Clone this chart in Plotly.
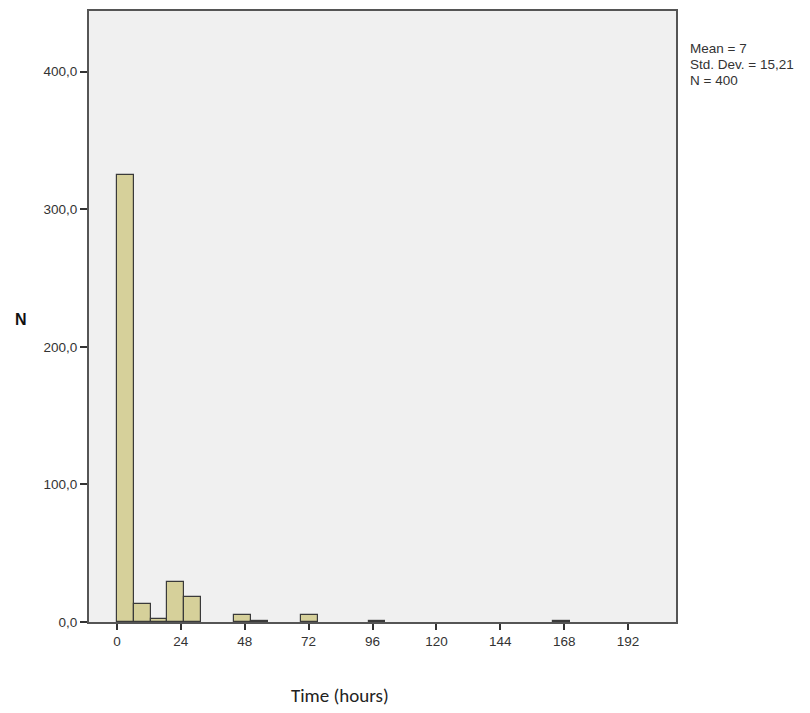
import plotly.graph_objects as go

# Histogram data (bins of equal width starting at 0 hours)
bin_start = 0.0
bin_width = 6.3
counts = [325, 13, 2, 29, 18, 0, 0, 5, 1, 0, 0, 5, 0, 0, 0, 1,
          0, 0, 0, 0, 0, 0, 0, 0, 0, 0, 1]
x_ticks = [0, 24, 48, 72, 96, 120, 144, 168, 192]
y_ticks = [0, 100, 200, 300, 400]
y_tick_labels = ["0,0", "100,0", "200,0", "300,0", "400,0"]
stats_text = ["Mean = 7", "Std. Dev. = 15,21", "N = 400"]

centers = [bin_start + bin_width * (i + 0.5) for i in range(len(counts))]
xs = [c for c, n in zip(centers, counts) if n > 0]
ys = [n for n in counts if n > 0]

fig = go.Figure()
fig.add_trace(go.Bar(
    x=xs, y=ys, width=bin_width,
    marker=dict(color="#d6d09a", line=dict(color="#3a3a3a", width=1.2)),
    hoverinfo="x+y",
))

annotations = []
for i, line in enumerate(stats_text):
    annotations.append(dict(
        text=line, xref="paper", yref="paper", x=1, y=1,
        xanchor="left", yanchor="middle", xshift=12, yshift=-37.5 - 16 * i,
        align="left", showarrow=False, font=dict(size=13.5, color="#333")))
annotations += [
    dict(text="<b>N</b>", xref="paper", yref="paper", x=-0.115, y=0.495,
         xanchor="center", yanchor="middle", showarrow=False,
         font=dict(size=16, color="#111")),
    dict(text="Time (hours)", xref="paper", yref="paper", x=0.428, y=-0.121,
         xanchor="center", yanchor="middle", showarrow=False,
         font=dict(family="Carlito, Calibri, Open Sans, sans-serif", size=19, color="#222")),
]

fig.update_layout(
    width=810, height=713,
    margin=dict(l=81, r=142, t=1, b=99),
    paper_bgcolor="white", plot_bgcolor="#f0f0f0",
    showlegend=False, bargap=0,
    font=dict(family="Arial, Liberation Sans, sans-serif", size=13.5, color="#333"),
    annotations=annotations,
)
fig.update_xaxes(
    range=[-10.5, 210], tickvals=x_ticks, ticktext=[str(v) for v in x_ticks],
    showgrid=False, zeroline=False, ticks="outside", ticklen=6, tickwidth=2,
    tickcolor="#333", showline=True, linecolor="#555", linewidth=2, mirror=True,
    tickfont=dict(size=13.5, color="#333"),
)
fig.update_yaxes(
    range=[0, 444], tickvals=y_ticks, ticktext=y_tick_labels,
    showgrid=False, zeroline=False, ticks="outside", ticklen=7, tickwidth=2,
    tickcolor="#333", showline=True, linecolor="#555", linewidth=2, mirror=True,
    tickfont=dict(size=13.5, color="#333"),
)

fig.write_html("out.html")
